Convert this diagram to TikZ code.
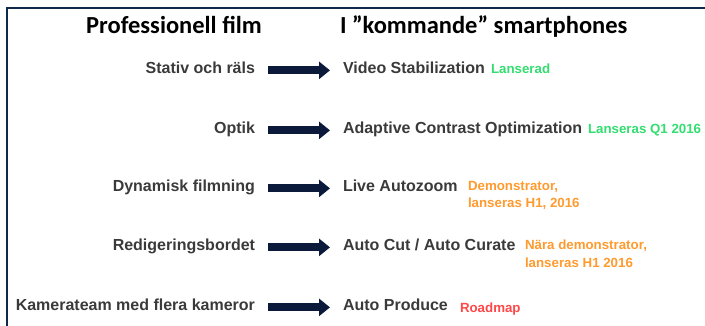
\documentclass[tikz,border=0pt]{standalone}
\usepackage{fontspec}
\setmainfont{Liberation Sans}
\newfontfamily\headfont{Carlito}
\usepackage{tikz}
\usetikzlibrary{arrows.meta}
\definecolor{Navy}     {HTML}{0B1A3A}
\definecolor{FrameBlue}{HTML}{10294A}
\definecolor{InkGry}   {HTML}{3A3A3A}
\definecolor{Launch}   {HTML}{33DD70}
\definecolor{Demo}     {HTML}{FF9A2E}
\definecolor{Plan}     {HTML}{FF4848}

\begin{document}
\begin{tikzpicture}[x=1pt, y=-1pt,
    every node/.style={inner sep=0pt, outer sep=0pt},
    head/.style={font=\headfont\fontsize{24.5}{28}\selectfont\bfseries, text=black},
    lbl/.style={font=\fontsize{16}{19}\selectfont\bfseries, text=InkGry},
    stat/.style={font=\fontsize{13.3}{17.5}\selectfont\bfseries, align=left, anchor=base west},
    stat2/.style={stat, anchor=north west},
    fat/.style={Navy, line width=8pt, -{Triangle[length=11pt, width=17pt]}}]
      \useasboundingbox (0,0) rectangle (705,325);
      % ── frame (top and left edges) ───────────────────────────────────────────
      \draw[FrameBlue, line width=2.5pt] (7,326) -- (7,8) -- (706,8);
      % ── column headings ──────────────────────────────────────────────────────
      \node[head, anchor=base] (hfilm) at (174,33) {Professionell film};
      \node[head, anchor=base west] (hphone) at (340,33) {I ”kommande” smartphones};
      % ── rows: film practice -> smartphone feature ────────────────────────────
      \foreach \i/\y/\lft/\rgt in {1/73/Stativ och räls/Video Stabilization,
                                   2/133/Optik/Adaptive Contrast Optimization,
                                   3/191/Dynamisk filmning/Live Autozoom,
                                   4/250/Redigeringsbordet/{Auto Cut / Auto Curate},
                                   5/310/Kamerateam med flera kameror/Auto Produce} {
        \node[lbl, anchor=base east] (film\i) at (255,\y) {\lft};
        \node[lbl, anchor=base west] (phone\i) at (343,\y) {\rgt};
        \draw[fat] ([xshift=13pt]film\i.mid east) -- ([xshift=-13pt]phone\i.mid west);
      }
      % ── status notes ─────────────────────────────────────────────────────────
      \node[stat, text=Launch]  (stat1) at (491,73)  {Lanserad};
      \node[stat, text=Launch]  (stat2) at (588,133) {Lanseras Q1 2016};
      \node[stat2, text=Demo]   (stat3) at (468,181.3) {Demonstrator,\\lanseras H1, 2016};
      \node[stat2, text=Demo]   (stat4) at (525,240.3) {Nära demonstrator,\\lanseras H1 2016};
      \node[stat, text=Plan]    (stat5) at (460,312) {Roadmap};
    \end{tikzpicture}
\end{document}
